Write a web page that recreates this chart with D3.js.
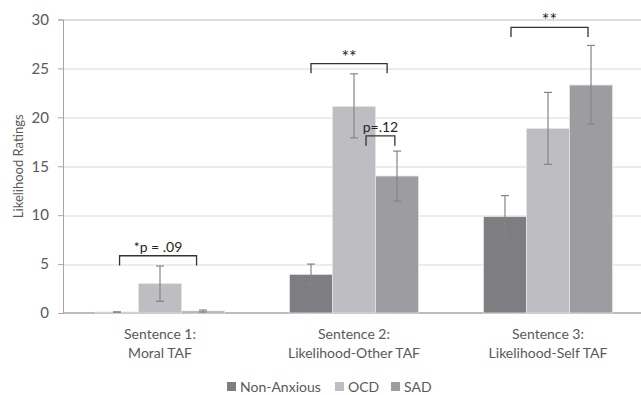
<!DOCTYPE html>
<html>
<head>
<meta charset="utf-8">
<script src="https://cdn.jsdelivr.net/npm/d3@7"></script>
<style>
  body { margin: 0; background: #fff; }
  svg { display: block; font-family: Lato, "Open Sans", sans-serif; }
</style>
</head>
<body>
<div id="chart"></div>
<script>
// Data
const categories = [["Sentence 1:", "Moral TAF"], ["Sentence 2:", "Likelihood-Other TAF"], ["Sentence 3:", "Likelihood-Self TAF"]];
const series = ["Non-Anxious", "OCD", "SAD"];
const means = {
    "Non-Anxious": [0.1, 3.95, 9.85],
    "OCD": [3.0, 21.1, 18.85],
    "SAD": [0.2, 14.0, 23.3]
};
const errLow = {
    "Non-Anxious": [0.1, 2.95, 7.75],
    "OCD": [1.2, 17.9, 15.2],
    "SAD": [0.1, 11.45, 19.3]
};
const errHigh = {
    "Non-Anxious": [0.1, 5.0, 12.0],
    "OCD": [4.8, 24.45, 22.55],
    "SAD": [0.3, 16.55, 27.35]
};
const yTicks = [0, 5, 10, 15, 20, 25, 30];
// significance brackets: group, from/to in bar units, height in rating units
const annotations = [
    { group: 0, from: 0.56, to: 2.35, y: 5.85, label: "*p = .09" },
    { group: 1, from: 0.5, to: 2.27, y: 25.5, label: "**" },
    { group: 1, from: 1.78, to: 2.45, y: 18.1, label: "p=.12" },
    { group: 2, from: 0.64, to: 2.43, y: 29.2, label: "**" }
];

const margin = { top: 19.5, left: 63 },
      width = 582,
      height = 293.5;

const svg = d3.select("#chart")
    .append("svg")
    .attr("width", 641)
    .attr("height", 395)
    .style("overflow", "hidden");

const g = svg.append("g")
    .attr("transform", `translate(${margin.left},${margin.top})`);

const x0 = d3.scaleBand()
    .domain(d3.range(categories.length))
    .range([0, width])
    .padding(0);

const x1 = d3.scaleBand()
    .domain(series)
    .range([0, x0.bandwidth()])
    .paddingInner(0)
    .paddingOuter(0.755);

const y = d3.scaleLinear()
    .domain([0, 30])
    .range([height, 0]);

const color = d3.scaleOrdinal()
    .domain(series)
    .range(["#7e7e82", "#bebec2", "#9d9da1"]);

// gridlines
g.selectAll(".grid")
    .data(yTicks.filter(t => t > 0))
    .enter()
    .append("line")
    .attr("x1", 0)
    .attr("x2", width)
    .attr("y1", d => Math.round(y(d)) + 0.5)
    .attr("y2", d => Math.round(y(d)) + 0.5)
    .attr("stroke", d => d === 30 ? "#bfbfbf" : "#d9d9d9")
    .attr("stroke-width", 1);

// y axis
const yAxis = g.append("g")
    .call(d3.axisLeft(y).tickValues(yTicks).tickSize(5).tickPadding(9));
yAxis.select(".domain").attr("stroke", "#a6a6a6");
yAxis.selectAll(".tick line").attr("stroke", "#a6a6a6");
yAxis.selectAll(".tick text")
    .attr("fill", "#595959")
    .style("font-size", "15px")
    .style("font-family", "Lato, sans-serif");

// baseline
g.append("line")
    .attr("x1", 0)
    .attr("x2", width)
    .attr("y1", y(0))
    .attr("y2", y(0))
    .attr("stroke", "#a6a6a6")
    .attr("stroke-width", 1.5);

// bars
const groups = g.selectAll(".bar-group")
    .data(categories.map((c, i) => i))
    .enter()
    .append("g")
    .attr("transform", i => `translate(${x0(i)},0)`);

groups.selectAll("rect")
    .data(i => series.map(s => ({ s, i, v: means[s][i] })))
    .enter()
    .append("rect")
    .attr("x", d => x1(d.s))
    .attr("y", d => y(d.v))
    .attr("width", x1.bandwidth())
    .attr("height", d => y(0) - y(d.v))
    .attr("fill", d => color(d.s))
    .attr("stroke", "#e4e4e6")
    .attr("stroke-width", 0.8);

// error bars
const eb = groups.selectAll(".err")
    .data(i => series.map(s => ({ s, i, lo: errLow[s][i], hi: errHigh[s][i] })))
    .enter()
    .append("g")
    .attr("stroke", "#858585")
    .attr("stroke-width", 1.2);

eb.append("line")
    .attr("x1", d => x1(d.s) + x1.bandwidth() / 2)
    .attr("x2", d => x1(d.s) + x1.bandwidth() / 2)
    .attr("y1", d => y(d.lo))
    .attr("y2", d => y(d.hi));
["lo", "hi"].forEach(k => {
    eb.append("line")
        .attr("x1", d => x1(d.s) + x1.bandwidth() / 2 - 4)
        .attr("x2", d => x1(d.s) + x1.bandwidth() / 2 + 4)
        .attr("y1", d => y(d[k]))
        .attr("y2", d => y(d[k]));
});

// category labels
categories.forEach((lines, i) => {
    const t = g.append("text")
        .attr("x", x0(i) + x0.bandwidth() / 2)
        .attr("y", height + 26)
        .attr("text-anchor", "middle")
        .attr("fill", "#595959")
        .style("font-size", "14px");
    lines.forEach((l, k) => {
        t.append("tspan")
            .attr("x", x0(i) + x0.bandwidth() / 2)
            .attr("dy", k === 0 ? 0 : 19)
            .text(l);
    });
});

// y-axis label
g.append("text")
    .attr("transform", "rotate(-90)")
    .attr("x", -height / 2)
    .attr("y", -margin.left + 23)
    .attr("text-anchor", "middle")
    .attr("fill", "#595959")
    .style("font-size", "13px")
    .text("Likelihood Ratings");

// significance brackets
const barStart = i => x0(i) + x1(series[0]);
annotations.forEach(a => {
    const xa = barStart(a.group) + a.from * x1.bandwidth();
    const xb = barStart(a.group) + a.to * x1.bandwidth();
    const yt = y(a.y), yb = y(a.y - 1);
    const stars = a.label === "**";
    g.append("path")
        .attr("d", `M${xa},${yb}L${xa},${yt}L${xb},${yt}L${xb},${yb}`)
        .attr("fill", "none")
        .attr("stroke", "#333")
        .attr("stroke-width", 1.3);
    g.append("text")
        .attr("x", (xa + xb) / 2)
        .attr("y", yt - (stars ? 1 : 4))
        .attr("text-anchor", "middle")
        .attr("fill", "#262626")
        .style("font-size", stars ? "18px" : "14px")
        .text(a.label);
});

// legend
const legend = svg.append("g")
    .attr("transform", "translate(227, 382)");
const legendX = [0, 108, 164];
series.forEach((s, i) => {
    legend.append("rect")
        .attr("x", legendX[i])
        .attr("y", 0)
        .attr("width", 9)
        .attr("height", 9)
        .attr("fill", color(s));
    legend.append("text")
        .attr("x", legendX[i] + 13)
        .attr("y", 9.5)
        .attr("fill", "#595959")
        .style("font-size", "14px")
        .text(s);
});
</script>
</body>
</html>
